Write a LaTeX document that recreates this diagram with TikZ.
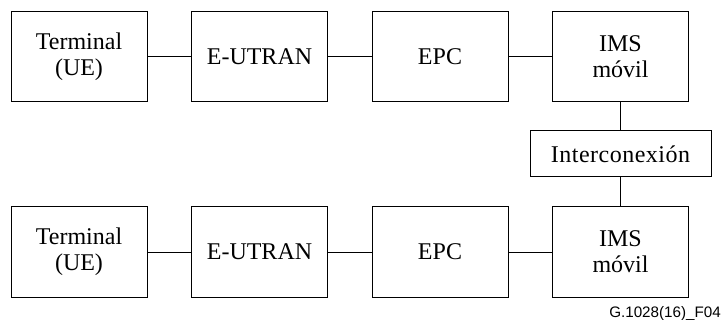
\documentclass[tikz,border=0pt]{standalone}
\usepackage{fontspec}
\setmainfont{Liberation Serif}
\newfontfamily\labelfont{Liberation Sans}
\newfontfamily\spacedfont[LetterSpace=2]{Liberation Serif}
\begin{document}
\begin{tikzpicture}[x=1pt,y=-1pt,
  blk/.style={draw,line width=1pt,inner sep=0pt,minimum width=136pt,minimum height=90pt,align=center,
    font=\fontsize{24}{26}\selectfont},
  ibox/.style={draw,line width=1pt,inner sep=0pt,minimum width=181pt,minimum height=46pt,align=center,
    font=\spacedfont\fontsize{24}{26}\selectfont},
  conn/.style={line width=1pt}]
\useasboundingbox (0,0) rectangle (722,320);
\node[blk] (t1) at (79,57) {Terminal\\(UE)};
\node[blk] (e1) at (259.5,57) {E-UTRAN};
\node[blk] (p1) at (440,57) {EPC};
\node[blk] (i1) at (620.5,57) {IMS\\móvil};
\node[ibox] (ic) at (620.5,154) {Interconexión};
\node[blk] (t2) at (79,252) {Terminal\\(UE)};
\node[blk] (e2) at (259.5,252) {E-UTRAN};
\node[blk] (p2) at (440,252) {EPC};
\node[blk] (i2) at (620.5,252) {IMS\\móvil};
\draw[conn] (t1) -- (e1);
\draw[conn] (e1) -- (p1);
\draw[conn] (p1) -- (i1);
\draw[conn] (i1) -- (ic);
\draw[conn] (ic) -- (i2);
\draw[conn] (t2) -- (e2);
\draw[conn] (e2) -- (p2);
\draw[conn] (p2) -- (i2);
\node[anchor=base east,inner sep=0pt,font=\labelfont\fontsize{15.2}{17}\selectfont] (lbl) at (721,317) {G.1028(16)\_F04};
\end{tikzpicture}
\end{document}
